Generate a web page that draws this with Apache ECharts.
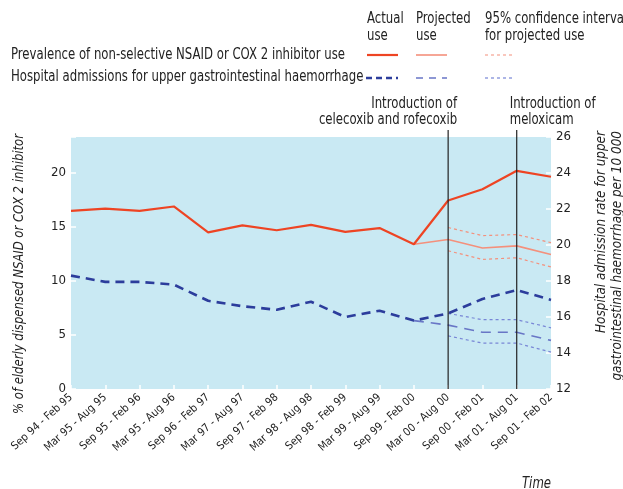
<!DOCTYPE html>
<html><head><meta charset="utf-8">
<script src="https://cdn.jsdelivr.net/npm/echarts@6/dist/echarts.min.js"></script>
<style>html,body{margin:0;padding:0;background:#fff}#c{width:623px;height:489px}</style>
</head><body><div id="c"></div>
<script>
const categories = ["Sep 94 - Feb 95","Mar 95 - Aug 95","Sep 95 - Feb 96","Mar 95 - Aug 96","Sep 96 - Feb 97","Mar 97 - Aug 97","Sep 97 - Feb 98","Mar 98 - Aug 98","Sep 98 - Feb 99","Mar 99 - Aug 99","Sep 99 - Feb 00","Mar 00 - Aug 00","Sep 00 - Feb 01","Mar 01 - Aug 01","Sep 01 - Feb 02"];
const nsaidActual = [16.5,16.7,16.5,16.9,14.5,15.15,14.7,15.2,14.55,14.9,13.4,17.45,18.5,20.2,19.65];
const nsaidProjected = [null,null,null,null,null,null,null,null,null,null,13.4,13.85,13.05,13.25,12.45];
const nsaidCIUpper = [null,null,null,null,null,null,null,null,null,null,null,14.95,14.2,14.3,13.55];
const nsaidCILower = [null,null,null,null,null,null,null,null,null,null,null,12.8,12.0,12.15,11.3];
const ugiActual = [18.3,17.95,17.95,17.8,16.9,16.6,16.4,16.85,16.0,16.35,15.8,16.2,17.0,17.5,16.95];
const ugiProjected = [null,null,null,null,null,null,null,null,null,null,15.8,15.55,15.15,15.15,14.7];
const ugiCIUpper = [null,null,null,null,null,null,null,null,null,null,null,16.2,15.85,15.85,15.4];
const ugiCILower = [null,null,null,null,null,null,null,null,null,null,null,14.95,14.55,14.55,14.05];
const leftTicks = [0,5,10,15,20];
const rightTicks = [12,14,16,18,20,22,24,26];
const legendColumns = ["Actual\nuse","Projected\nuse","95% confidence interval\nfor projected use"];
const legendRows = ["Prevalence of non-selective NSAID or COX 2 inhibitor use","Hospital admissions for upper gastrointestinal haemorrhage"];
const leftTitle = "% of elderly dispensed NSAID or COX 2 inhibitor";
const rightTitle = "Hospital admission rate for upper\ngastrointestinal haemorrhage per 10 000";
const xTitle = "Time";
const events = [
  {index: 11, lines: ["Introduction of","celecoxib and rofecoxib"], align: "right"},
  {index: 13, lines: ["Introduction of","meloxicam"], align: "left"}
];

const FONT = "'Liberation Sans Narrow','DejaVu Sans Condensed','Liberation Sans',sans-serif";
const RED = "#ee4423", RED_L = "#f4907c", BLUE = "#2c3d9c", BLUE_L = "#6876c6", BLUE_D = "#7886d6";
const INK = "#222";

// measure to emulate the narrow typeface of the original
const mctx = document.createElement('canvas').getContext('2d');
function tw(text, font) { mctx.font = font; return mctx.measureText(text).width; }
const SX = Math.min(1, 334 / tw(legendRows[0], '15px ' + FONT));
const xLabelSize = Math.min(14, Math.max(10, 14 * 78 / tw(categories[0], '14px ' + FONT)));
const yLabelSize = Math.min(15, Math.max(11, 15 * 15 / tw('20', '15px ' + FONT)));
const SXL = Math.min(1, 280 / tw(leftTitle, 'italic 14.5px ' + FONT));
const SXR = Math.min(1, 202 / tw(rightTitle.split('\n')[0], 'italic 14.5px ' + FONT));

const chart = echarts.init(document.getElementById('c'), null, {renderer: 'canvas'});
function lineSeries(name, data, yi, color, width, type, z) {
  return {name, type: 'line', data, yAxisIndex: yi, symbol: 'none', connectNulls: false,
    lineStyle: {color, width, type}, z: z || 2, animation: false, silent: true};
}
chart.setOption({
  animation: false,
  textStyle: {fontFamily: FONT},
  grid: {left: 71, right: 72, top: 137, bottom: 100, show: true, backgroundColor: '#c9e9f3', borderWidth: 0,
    containLabel: false, outerBoundsMode: 'none'},
  xAxis: {type: 'category', data: categories, boundaryGap: false,
    axisLine: {show: false},
    axisTick: {show: true, inside: true, length: 4, lineStyle: {color: '#fff', width: 1.5}},
    axisLabel: {rotate: 42, fontSize: xLabelSize, color: INK, fontFamily: FONT, margin: 7, interval: 0},
    splitLine: {show: false}},
  yAxis: [
    {type: 'value', min: 0, max: 70/3, interval: 5, position: 'left',
      axisLine: {show: false},
      axisTick: {show: true, inside: true, length: 5, lineStyle: {color: '#fff', width: 1.5}},
      axisLabel: {fontSize: yLabelSize, color: INK, fontFamily: FONT, margin: 5,
        formatter: v => leftTicks.includes(Math.round(v*1000)/1000) ? String(v) : ''},
      splitLine: {show: false}},
    {type: 'value', min: 12, max: 26, interval: 2, position: 'right',
      axisLine: {show: false},
      axisTick: {show: true, inside: true, length: 5, lineStyle: {color: '#fff', width: 1.5}},
      axisLabel: {fontSize: yLabelSize, color: INK, fontFamily: FONT, margin: 5,
        formatter: v => rightTicks.includes(v) ? String(v) : ''},
      splitLine: {show: false}}
  ],
  series: [
    lineSeries('nsaidCIUpper', nsaidCIUpper, 0, RED_L, 1.2, [3,3]),
    lineSeries('nsaidCILower', nsaidCILower, 0, RED_L, 1.2, [3,3]),
    lineSeries('nsaidProjected', nsaidProjected, 0, RED_L, 1.6, 'solid'),
    lineSeries('nsaidActual', nsaidActual, 0, RED, 2.2, 'solid', 3),
    lineSeries('ugiCIUpper', ugiCIUpper, 1, BLUE_D, 1.2, [3,3]),
    lineSeries('ugiCILower', ugiCILower, 1, BLUE_D, 1.2, [3,3]),
    lineSeries('ugiProjected', ugiProjected, 1, BLUE_L, 1.6, [10,7]),
    lineSeries('ugiActual', ugiActual, 1, BLUE, 2.6, [9,6], 3)
  ]
});

// annotations, axis titles and legend
const g = [];
const bottomY = chart.convertToPixel({yAxisIndex: 1}, 12);
const topY = chart.convertToPixel({yAxisIndex: 1}, 26);
const rightX = chart.convertToPixel({xAxisIndex: 0}, categories.length - 1);
const font15 = '15px ' + FONT;
function txt(x, y, text, opts) {
  opts = opts || {};
  return {type: 'text', x, y, scaleX: opts.scaleX || SX, rotation: opts.rotation || 0, z: 10, silent: true,
    style: {text, font: opts.font || font15, fill: INK, align: opts.align || 'left',
      verticalAlign: opts.verticalAlign || 'top', lineHeight: opts.lineHeight || 17}};
}
events.forEach(e => {
  const x = chart.convertToPixel({xAxisIndex: 0}, e.index);
  g.push({type: 'line', shape: {x1: x, y1: topY - 7, x2: x, y2: bottomY}, style: {stroke: INK, lineWidth: 1.2}, z: 10, silent: true});
  const tx = e.align === 'right' ? x + 9 : x - 7;
  g.push(txt(tx, 96, e.lines.join('\n'), {align: e.align, lineHeight: 16}));
});
[367, 416, 485].forEach((x, i) => g.push(txt(x, 11, legendColumns[i])));
g.push(txt(11, 47, legendRows[0]));
g.push(txt(11, 69, legendRows[1]));
const legRows = [
  {y: 55, items: [[367,398,RED,2.2,null],[416,447,RED_L,1.6,null],[485,515,RED_L,1.2,[3,3]]]},
  {y: 78, items: [[366,398,BLUE,2.6,[6,4]],[416,447,BLUE_L,1.6,[7,6]],[485,515,BLUE_D,1.2,[3,3]]]}
];
legRows.forEach(r => r.items.forEach(it => {
  g.push({type: 'line', shape: {x1: it[0], y1: r.y, x2: it[1], y2: r.y}, style: {stroke: it[2], lineWidth: it[3], lineDash: it[4]}, silent: true});
}));
g.push(txt(rightX, 476, xTitle, {font: 'italic 15px ' + FONT, align: 'right'}));
g.push(txt(19, 274, leftTitle, {font: 'italic 14.5px ' + FONT, align: 'center', verticalAlign: 'middle', rotation: Math.PI / 2, scaleX: SXL}));
g.push(txt(609, 131, rightTitle, {font: 'italic 14.5px ' + FONT, align: 'right', verticalAlign: 'middle', rotation: Math.PI / 2, scaleX: SXR, lineHeight: 16}));
chart.setOption({graphic: g});
</script></body></html>
